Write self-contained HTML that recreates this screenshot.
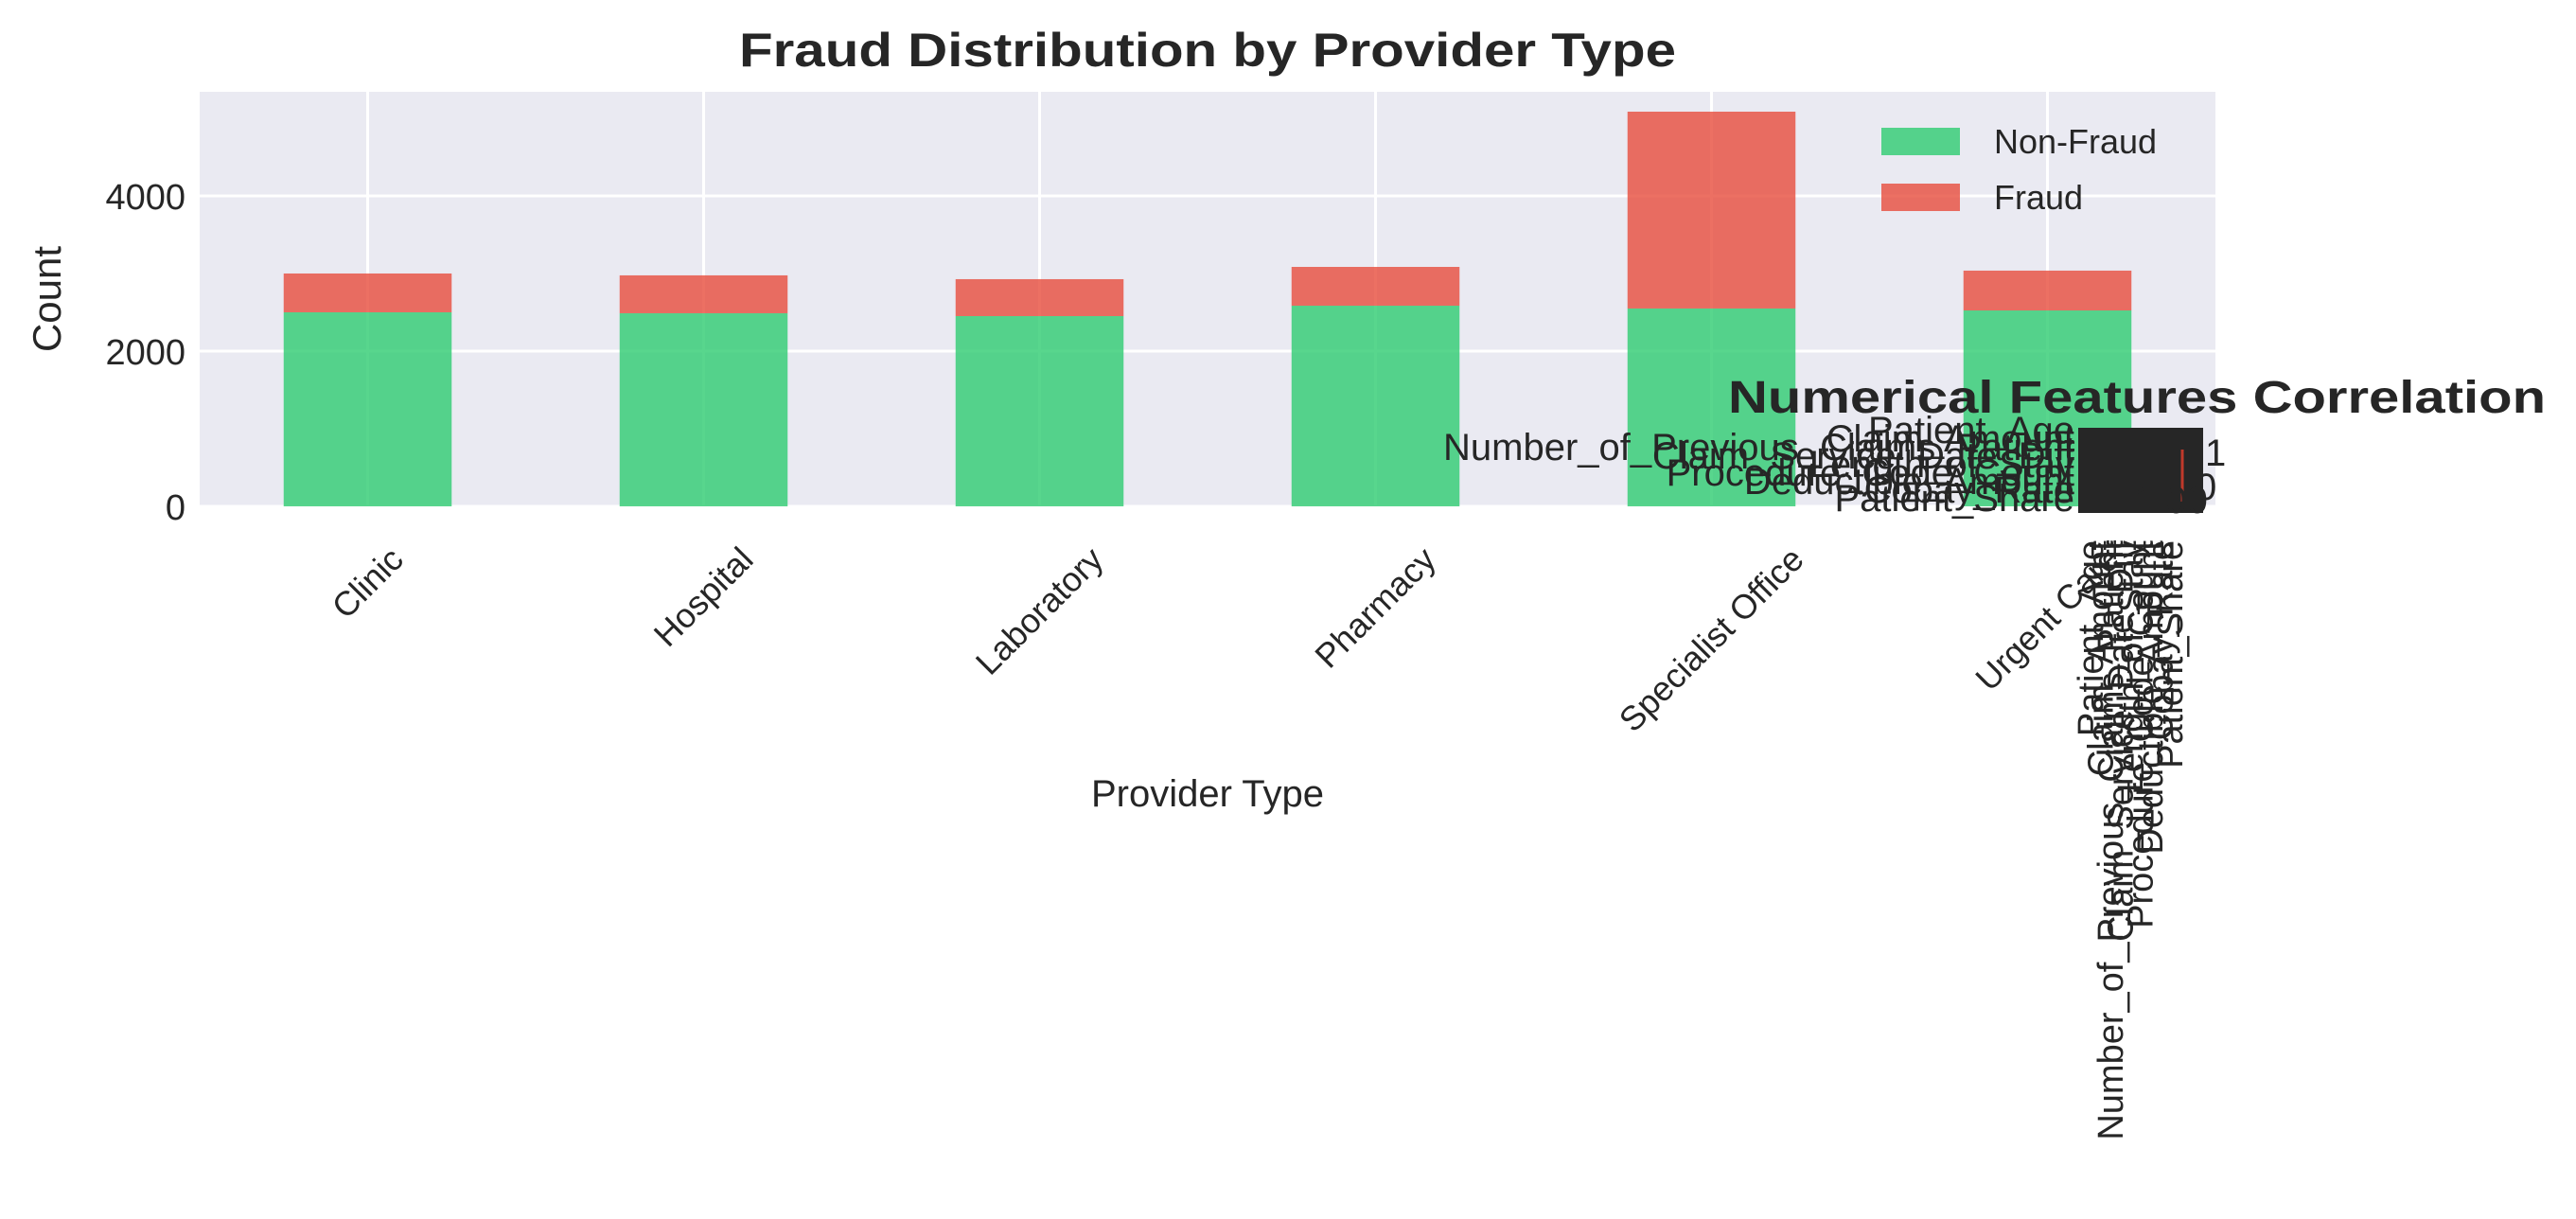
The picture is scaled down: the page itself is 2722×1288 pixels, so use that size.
<!DOCTYPE html>
<html><head><meta charset="utf-8"><style>
html,body{margin:0;padding:0;background:#fff}
svg{display:block;font-family:"Liberation Sans",Arial,sans-serif}
</style></head><body>
<svg id="chart" width="2722" height="1288" viewBox="0 0 2722 1288" xmlns="http://www.w3.org/2000/svg">
<rect x="211" y="97" width="2130" height="438" fill="#eaeaf2"/>
<g id="grid"></g>
<g id="bars"></g>
<g id="yticks"></g>
<g id="xticks"></g>
<text x="1276" y="70" text-anchor="middle" font-size="50" font-weight="bold" fill="#262626" textLength="990" lengthAdjust="spacingAndGlyphs">Fraud Distribution by Provider Type</text>
<text transform="translate(64,316) rotate(-90)" text-anchor="middle" font-size="42" fill="#262626">Count</text>
<text x="1276" y="852" text-anchor="middle" font-size="40" fill="#262626">Provider Type</text>
<g>
<rect x="1988" y="135" width="83" height="29" fill="#2ecc71" fill-opacity="0.8"/>
<text x="2107" y="162" font-size="36" fill="#262626">Non-Fraud</text>
<rect x="1988" y="194" width="83" height="29" fill="#e74c3c" fill-opacity="0.8"/>
<text x="2107" y="221" font-size="36" fill="#262626">Fraud</text>
</g>
<g id="heat">
<text x="1826" y="436" font-size="48" font-weight="bold" fill="#262626" textLength="864" lengthAdjust="spacingAndGlyphs">Numerical Features Correlation</text>
<rect x="2196" y="452" width="132" height="90" fill="#262626"/>
<line x1="2306" y1="475" x2="2306" y2="530" stroke="#c0392b" stroke-width="3"/>
<text x="2330" y="492" font-size="40" fill="#262626">1</text>
<text x="2320" y="528" font-size="40" fill="#262626">0</text>
<text x="2255" y="542" font-size="40" fill="#262626">1.00</text>
</g>
<g id="hlabels"></g>
</svg>
<script>
const categories = ["Clinic","Hospital","Laboratory","Pharmacy","Specialist Office","Urgent Care"];
const nonFraud = [2500,2488,2451,2585,2549,2524];
const fraud = [500,488,476,500,2536,513];
const yTicks = [0,2000,4000];
const features = ["Patient_Age","Claim_Amount","Number_of_Previous_Claims_Patient","Claim_Service_Date_Diff","Length_of_Stay","Procedure_Code_Count","Deductible_Amount","Copay_Rate","Patient_Share"];

const NS="http://www.w3.org/2000/svg";
const pLeft=211,pRight=2341,pTop=97,pBottom=535;
const yMax=5341;
const step=(pRight-pLeft)/categories.length;
function xPos(i){return pLeft+step*(i+0.5);}
function yPos(v){return pBottom-(v/yMax)*(pBottom-pTop);}
function mk(tag,attrs,parent){const e=document.createElementNS(NS,tag);for(const k in attrs)e.setAttribute(k,attrs[k]);parent.appendChild(e);return e;}

const grid=document.getElementById('grid');
yTicks.forEach(t=>{
  const l=mk('line',{x1:pLeft,x2:pRight,y1:yPos(t),y2:yPos(t),stroke:'#fff','stroke-width':3},grid);
  
  
});
categories.forEach((c,i)=>{
  const l=mk('line',{x1:xPos(i),x2:xPos(i),y1:pTop,y2:pBottom,stroke:'#fff','stroke-width':3},grid);
  
  
});

const bars=document.getElementById('bars');
const bw=step*0.5;
categories.forEach((c,i)=>{
  const g1=mk('rect',{x:xPos(i)-bw/2,y:yPos(nonFraud[i]),width:bw,height:pBottom-yPos(nonFraud[i]),fill:'#2ecc71','fill-opacity':0.8},bars);
  
  
  const tot=nonFraud[i]+fraud[i];
  const r1=mk('rect',{x:xPos(i)-bw/2,y:yPos(tot),width:bw,height:yPos(nonFraud[i])-yPos(tot),fill:'#e74c3c','fill-opacity':0.8},bars);
  
  
});

const yt=document.getElementById('yticks');
yTicks.forEach(t=>{
  const e=mk('text',{x:196,y:yPos(t)+14,'text-anchor':'end','font-size':38,fill:'#262626'},yt);
  e.textContent=t;
  
  
});

const xt=document.getElementById('xticks');
categories.forEach((c,i)=>{
  const e=mk('text',{'text-anchor':'middle','font-size':36,fill:'#262626'},xt);
  e.textContent=c;
  
  
  const L=e.getComputedTextLength();
  const h=28;
  const half=(L+h)*0.7071/2;
  e.setAttribute('transform','translate('+xPos(i)+','+(575+half)+') rotate(-45) translate(0,12)');
});

const hl=document.getElementById('hlabels');
features.forEach((f,i)=>{
  const e=mk('text',{x:2192,y:468+i*9,'text-anchor':'end','font-size':40,fill:'#262626'},hl);
  e.textContent=f;
  
  
});
features.forEach((f,i)=>{
  const x=2222+i*10.5;
  const e=mk('text',{'text-anchor':'end','font-size':38,fill:'#262626',transform:'translate('+x+',571) rotate(-90)'},hl);
  e.textContent=f;
  
  
});
</script>
</body></html>
